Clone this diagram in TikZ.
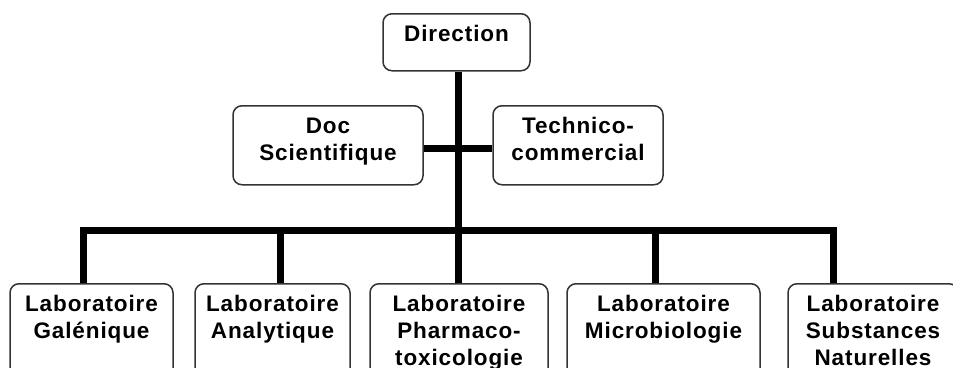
\documentclass[tikz,border=0pt]{standalone}
\usepackage{fontspec}
\setmainfont[LetterSpace=4]{Liberation Sans}

\begin{document}
\begin{tikzpicture}[x=1pt,y=-1pt]
\useasboundingbox (0,0) rectangle (953,367);
\clip (0,0) rectangle (953,367);
\begin{scope}[every node/.style={draw=black!80,line width=1.5pt,rounded corners=9pt,
              fill=white,anchor=north,align=center,inner xsep=0pt,inner ysep=12pt,
              text height=16pt,font=\fontsize{22.5}{27}\selectfont\bfseries}]
    \node[text width=147pt,text depth=17pt] (dir) at (456.5,13) {Direction};
    \node[text width=190pt,text depth=39pt] (doc) at (328,105) {Doc\\Scientifique};
    \node[text width=170pt,text depth=39pt] (tech) at (578,105) {Technico-\\commercial};
    \node[text width=163pt,text depth=90pt] (gal) at (91.5,283) {Laboratoire\\Galénique};
    \node[text width=155pt,text depth=90pt] (ana) at (272.5,283) {Laboratoire\\Analytique};
    \node[text width=178pt,text depth=90pt] (pharma) at (459,283) {Laboratoire\\Pharmaco-\\toxicologie};
    \node[text width=193pt,text depth=90pt] (micro) at (663.5,283) {Laboratoire\\Microbiologie};
    \node[text width=170pt,text depth=90pt] (subst) at (873,283) {Laboratoire\\Substances\\Naturelles};
\end{scope}

\coordinate (mid) at (458,148);
\coordinate (busA) at (83,230);
\coordinate (busB) at (280,230);
\coordinate (busC) at (458,230);
\coordinate (busD) at (655,230);
\coordinate (busE) at (833,230);

\begin{scope}[every path/.style={draw=black,line width=7pt}]
    \path (dir.south -| busC) -- (busC);
    \path (doc.east |- mid) -- (tech.west |- mid);
    \path (gal.north -| busA) -- (busA) -- (busE) -- (subst.north -| busE);
    \path (busB) -- (ana.north -| busB);
    \path (busC) -- (pharma.north -| busC);
    \path (busD) -- (micro.north -| busD);
\end{scope}
\end{tikzpicture}
\end{document}
